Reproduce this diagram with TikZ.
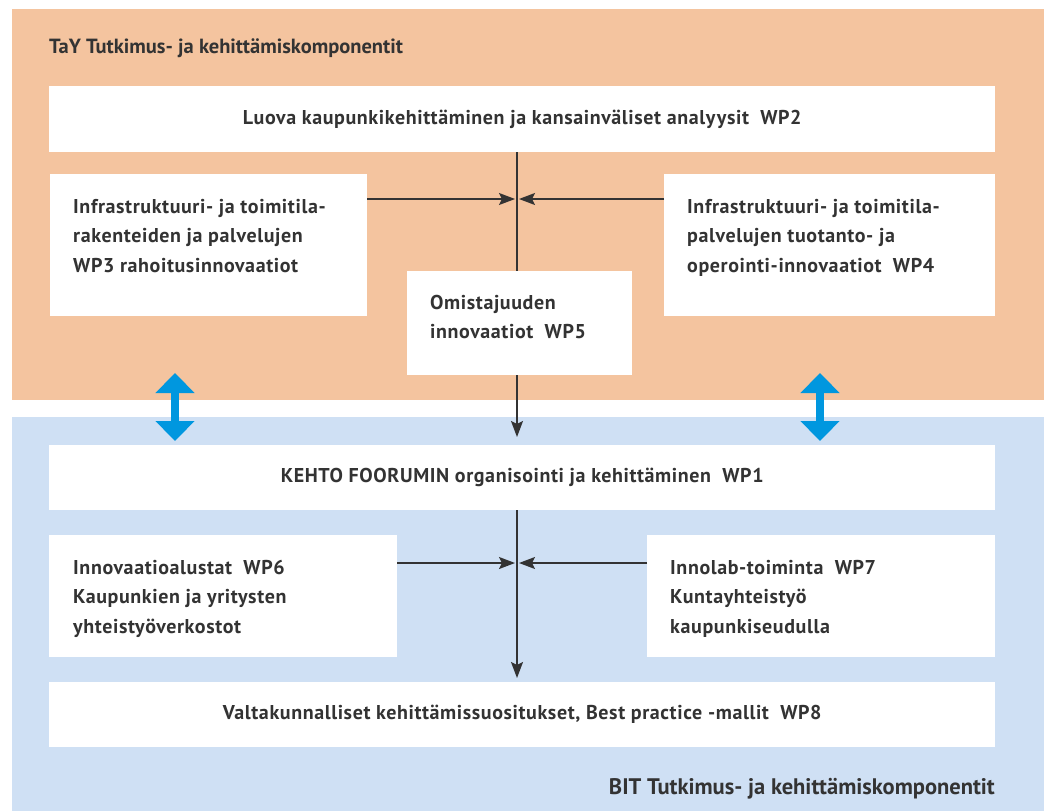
\documentclass[tikz,border=0pt]{standalone}
\usepackage{fontspec}
\setmainfont{PT Sans}
\usetikzlibrary{arrows.meta}
\definecolor{tayorange}{HTML}{F4C49F}
\definecolor{bitblue}{HTML}{CFE0F4}
\definecolor{linkblue}{HTML}{0097DF}
\definecolor{txtgray}{HTML}{333333}
\tikzset{
  region/.style={rectangle,inner sep=0pt,anchor=north west},
  wpbox/.style={rectangle,fill=white,inner sep=0pt,anchor=north west,
    text=txtgray,font=\bfseries\fontsize{20}{24}\selectfont\addfontfeature{LetterSpace=3}},
  wptext/.style={inner sep=0pt,anchor=north west,align=left,
    text=txtgray,font=\bfseries\fontsize{20}{29.5}\selectfont\addfontfeature{LetterSpace=3}},
  headline/.style={inner sep=0pt,anchor=base west,text=txtgray},
  link/.style={draw=txtgray,line width=1.4pt},
  linkarrow/.style={link,-{Stealth[length=16pt,width=12pt,inset=3pt]}},
  dualarrow/.style={draw=linkblue,line width=8pt,
    {Triangle[length=20pt,width=38pt]}-{Triangle[length=20pt,width=38pt]}}
}
\begin{document}
\begin{tikzpicture}[x=1pt,y=-1pt]
\useasboundingbox[fill=white] (0,0) rectangle (1046,811);
% the two component areas
\node[region,fill=tayorange,minimum width=1032pt,minimum height=391pt] (tay) at (12,9) {};
\node[region,fill=bitblue,minimum width=1032pt,minimum height=394pt] (bit) at (12,417) {};
\node[headline,font=\bfseries\fontsize{20.5}{24}\selectfont] (taytitle) at (49,53)
  {TaY Tutkimus- ja kehittämiskomponentit};
\node[headline,anchor=base east,font=\bfseries\fontsize{22.5}{26}\selectfont] (bittitle) at (995,794)
  {BIT Tutkimus- ja kehittämiskomponentit};
% work packages
\node[wpbox,minimum width=946pt,minimum height=66pt] (wp2) at (49,86)
  {Luova kaupunkikehittäminen ja kansainväliset analyysit\ \ WP2};
\node[wpbox,minimum width=317pt,minimum height=142pt] (wp3) at (50,174) {};
\node[wpbox,minimum width=331pt,minimum height=142pt] (wp4) at (664,174) {};
\node[wpbox,minimum width=225pt,minimum height=104pt] (wp5) at (407,271) {};
\node[wpbox,minimum width=946pt,minimum height=65pt] (wp1) at (49,445)
  {KEHTO FOORUMIN organisointi ja kehittäminen\ \ WP1};
\node[wpbox,minimum width=348pt,minimum height=122pt] (wp6) at (49,535) {};
\node[wpbox,minimum width=348pt,minimum height=122pt] (wp7) at (647,535) {};
\node[wpbox,minimum width=946pt,minimum height=65pt] (wp8) at (49,682)
  {Valtakunnalliset kehittämissuositukset, Best practice -mallit\ \ WP8};
\node[wptext] (wp3text) at ([shift={(23,25)}]wp3.north west)
  {Infrastruktuuri- ja toimitila-\\rakenteiden ja palvelujen\\WP3 rahoitusinnovaatiot};
\node[wptext] (wp4text) at ([shift={(23,25)}]wp4.north west)
  {Infrastruktuuri- ja toimitila-\\palvelujen tuotanto- ja\\operointi-innovaatiot\ \ WP4};
\node[wptext] (wp5text) at ([shift={(23,24)}]wp5.north west)
  {Omistajuuden\\innovaatiot\ \ WP5};
\node[wptext] (wp6text) at ([shift={(24,25)}]wp6.north west)
  {Innovaatioalustat\ \ WP6\\Kaupunkien ja yritysten\\yhteistyöverkostot};
\node[wptext] (wp7text) at ([shift={(23,25)}]wp7.north west)
  {Innolab-toiminta\ \ WP7\\Kuntayhteistyö\\kaupunkiseudulla};
% connectors
\coordinate (jtop) at (517,199);
\coordinate (jbot) at (517,563);
\draw[link] (wp2.south -| jtop) -- (wp5.north -| jtop);
\draw[linkarrow] (wp3.east |- jtop) -- ([xshift=-2pt]jtop);
\draw[linkarrow] (wp4.west |- jtop) -- ([xshift=2pt]jtop);
\draw[linkarrow,shorten >=8pt] (wp5.south -| jtop) -- (wp1.north -| jtop);
\draw[linkarrow,shorten >=4pt] (wp1.south -| jbot) -- (wp8.north -| jbot);
\draw[linkarrow] (wp6.east |- jbot) -- ([xshift=-2pt]jbot);
\draw[linkarrow] (wp7.west |- jbot) -- ([xshift=2pt]jbot);
% exchange between the areas
\coordinate (lup) at (175,373);
\coordinate (ldown) at (175,441);
\coordinate (rup) at (820,373);
\coordinate (rdown) at (820,441);
\draw[dualarrow] (lup) -- (ldown);
\draw[dualarrow] (rup) -- (rdown);
\end{tikzpicture}
\end{document}
